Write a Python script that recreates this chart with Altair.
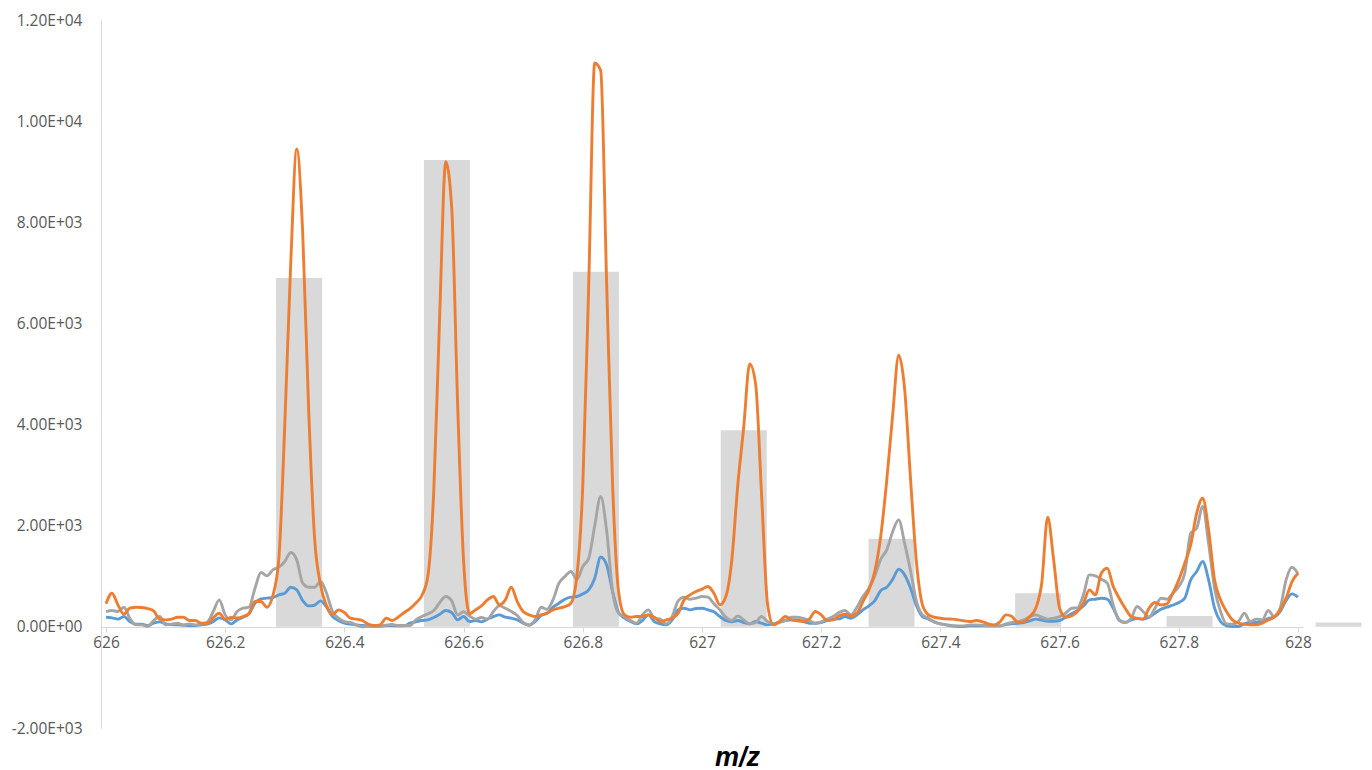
import json
import altair as alt
import pandas as pd

# m/z sampling grid (626.00 .. 628.00, step 0.01)
mz = [round(626 + i * 0.01, 2) for i in range(201)]

orange = [
    455, 666, 435, 250, 369, 389, 382, 362, 316, 152,
    138, 152, 191, 191, 125, 125, 72, 72, 178, 270,
    152, 185, 178, 204, 270, 500, 500, 389, 620, 1350,
    4000, 7200, 9450, 7800, 4300, 1750, 830, 420, 240, 336,
    283, 171, 152, 125, 53, 26, 40, 171, 125, 191,
    280, 360, 470, 620, 1000, 2700, 6200, 9200, 8300, 4400,
    1300, 260, 336, 415, 534, 600, 435, 534, 784, 500,
    303, 237, 204, 237, 270, 336, 369, 400, 468, 1000,
    2800, 6800, 11150, 11000, 6800, 2800, 700, 237, 190, 204,
    204, 237, 190, 105, 138, 171, 270, 534, 632, 700,
    745, 797, 665, 435, 600, 1320, 2800, 3950, 5200, 4800,
    2600, 450, 40, 105, 204, 138, 119, 105, 152, 303,
    237, 125, 138, 217, 250, 217, 270, 500, 731, 1100,
    1800, 2900, 4200, 5370, 4700, 2900, 1259, 430, 237, 190,
    171, 158, 152, 138, 119, 105, 125, 105, 60, 40,
    100, 237, 204, 86, 105, 204, 369, 863, 2168, 1325,
    369, 191, 217, 303, 468, 731, 633, 1061, 1160, 797,
    567, 369, 204, 171, 152, 369, 481, 435, 455, 665,
    929, 1259, 1621, 2247, 2544, 1918, 929, 534, 303, 138,
    72, 53, 40, 40, 72, 138, 191, 336, 567, 896,
    1061,
]

gray = [
    303, 323, 303, 389, 171, 40, 40, 7, 125, 204,
    40, 53, 72, 40, 59, 40, 59, 92, 303, 534,
    237, 138, 303, 369, 389, 764, 1074, 1008, 1127, 1180,
    1292, 1470, 1325, 863, 784, 784, 896, 666, 303, 171,
    105, 86, 40, 0, 7, 7, 7, 33, 46, 26,
    26, 26, 138, 204, 257, 323, 481, 600, 514, 237,
    300, 217, 152, 185, 152, 303, 415, 369, 303, 224,
    86, 40, 138, 389, 349, 534, 863, 995, 1094, 942,
    1193, 1358, 2000, 2580, 1900, 700, 270, 204, 125, 72,
    237, 336, 171, 152, 59, 204, 514, 587, 547, 567,
    600, 587, 455, 336, 191, 125, 217, 138, 59, 86,
    204, 105, 59, 86, 125, 191, 191, 165, 125, 72,
    99, 152, 204, 283, 323, 237, 389, 600, 764, 1008,
    1338, 1522, 1885, 2115, 1650, 1100, 500, 237, 171, 92,
    59, 40, 20, 20, 20, 40, 40, 33, 20, 20,
    20, 59, 86, 105, 138, 198, 237, 191, 152, 171,
    204, 270, 369, 376, 633, 1028, 1008, 942, 863, 435,
    125, 86, 171, 402, 303, 191, 369, 567, 547, 666,
    797, 1061, 1852, 1950, 2380, 1654, 764, 303, 59, 53,
    105, 270, 105, 152, 138, 323, 204, 369, 929, 1180,
    1048,
]

blue = [
    191, 178, 152, 204, 105, 53, 53, 26, 72, 99,
    59, 46, 40, 33, 26, 26, 40, 53, 105, 178,
    138, 59, 138, 191, 257, 468, 553, 567, 580, 633,
    666, 784, 731, 520, 415, 428, 514, 389, 204, 125,
    72, 53, 40, 26, 20, 20, 20, 26, 26, 20,
    20, 72, 99, 125, 138, 185, 250, 323, 283, 138,
    204, 105, 125, 99, 152, 204, 237, 191, 171, 138,
    72, 33, 105, 224, 270, 389, 468, 547, 587, 600,
    652, 731, 962, 1380, 1226, 700, 283, 171, 105, 59,
    125, 237, 105, 59, 40, 138, 336, 369, 336, 362,
    369, 336, 297, 204, 125, 99, 125, 86, 59, 105,
    72, 40, 59, 99, 125, 138, 138, 105, 72, 72,
    86, 125, 152, 158, 204, 171, 237, 336, 415, 520,
    718, 784, 942, 1140, 1028, 764, 415, 204, 152, 99,
    59, 40, 20, 7, 7, 20, 20, 20, 20, 20,
    20, 46, 59, 72, 86, 119, 152, 132, 112, 112,
    125, 191, 257, 323, 415, 534, 547, 567, 547, 369,
    138, 86, 138, 165, 152, 191, 270, 349, 389, 428,
    481, 567, 929, 1094, 1292, 929, 369, 105, 20, 7,
    7, 59, 86, 86, 105, 165, 191, 303, 520, 652,
    586,
]

bar_mz = [626.324, 626.572, 626.822, 627.070, 627.318, 627.564, 627.818, 628.068]
bar_val = [6900, 9230, 7020, 3890, 1740, 666, 217, 85]

x_ticks = [626, 626.2, 626.4, 626.6, 626.8, 627, 627.2, 627.4, 627.6, 627.8, 628]
x_labels = ["626", "626.2", "626.4", "626.6", "626.8", "627", "627.2", "627.4",
            "627.6", "627.8", "628"]
y_ticks = [-2000, 0, 2000, 4000, 6000, 8000, 10000, 12000]
y_labels = ["-2.00E+03", "0.00E+00", "2.00E+03", "4.00E+03", "6.00E+03",
            "8.00E+03", "1.00E+04", "1.20E+04"]

x_expr = f"{json.dumps(x_labels)}[indexof({json.dumps(x_ticks)}, datum.value)]"
y_expr = f"{json.dumps(y_labels)}[indexof({json.dumps(y_ticks)}, datum.value)]"

AXIS_GRAY = "#D9D9D9"
LABEL_GRAY = "#595959"

x_enc = alt.X(
    "mz:Q",
    scale=alt.Scale(domain=[626, 628], nice=False, zero=False),
    axis=alt.Axis(
        values=x_ticks, labelExpr=x_expr, offset=-101, grid=False,
        domainColor=AXIS_GRAY, tickColor=AXIS_GRAY, tickSize=5,
        labelFont="Open Sans", labelFontSize=15.5, labelColor=LABEL_GRAY,
        labelPadding=3, labelOverlap=False, labelFlush=False,
        title="m/z", titleFont="Liberation Sans", titleFontSize=27,
        titleFontStyle="italic", titleFontWeight="bold", titleColor="#000000",
        titleX=636, titleY=138, titleAlign="center", titleBaseline="alphabetic",
    ),
)
y_enc = alt.Y(
    "intensity:Q",
    scale=alt.Scale(domain=[-2000, 12000], nice=False, zero=False),
    axis=alt.Axis(
        values=y_ticks, labelExpr=y_expr, grid=False, ticks=False,
        domainColor=AXIS_GRAY, labelFont="Open Sans", labelFontSize=15.5,
        labelColor=LABEL_GRAY, labelPadding=19, labelOverlap=False,
        labelFlush=False, title=None,
    ),
)

bars_df = pd.DataFrame({"mz": bar_mz, "intensity": bar_val})
bars = alt.Chart(bars_df).mark_bar(size=46, color="#D9D9D9").encode(
    x=x_enc, y=y_enc, y2=alt.datum(0)
)


def line(values, color):
    df = pd.DataFrame({"mz": mz, "intensity": values})
    return alt.Chart(df).mark_line(
        color=color, strokeWidth=2.9, interpolate="monotone"
    ).encode(x=x_enc, y=y_enc)


chart = alt.layer(
    bars,
    line(blue, "#5B9BD5"),
    line(gray, "#A5A5A5"),
    line(orange, "#ED7D31"),
).properties(
    width=1202,
    height=708,
    autosize=alt.AutoSizeParams(type="none"),
    padding={"left": 101, "top": 20, "right": 69, "bottom": 42},
    background="white",
).configure_view(stroke=None)

chart.save("out.html", embed_options={"renderer": "svg", "actions": False})
